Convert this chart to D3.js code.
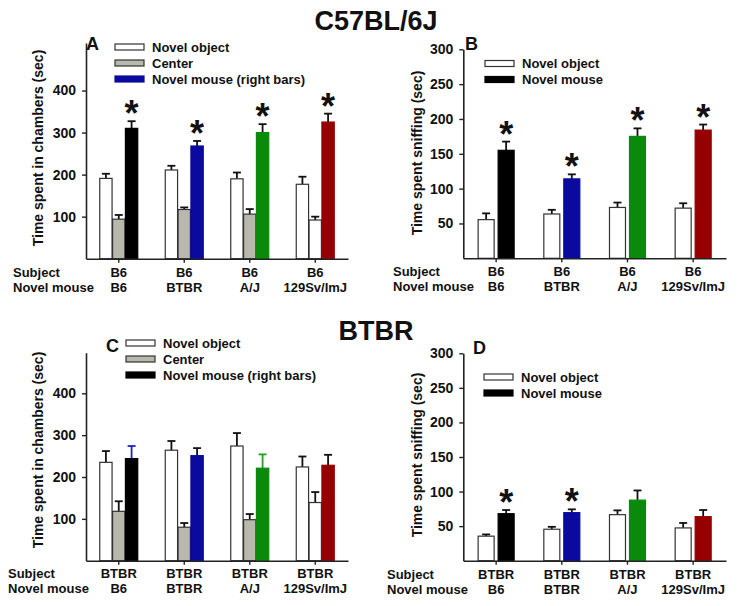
<!DOCTYPE html>
<html><head><meta charset="utf-8">
<script src="https://cdn.jsdelivr.net/npm/d3@7"></script>
<style>
html,body{margin:0;padding:0;background:#fff;}
svg text{font-family:"Liberation Sans",Arial,sans-serif;font-weight:bold;fill:#111;}
</style></head>
<body><svg id="c" width="749" height="606"></svg>
<script>
// ---------- data ----------
const novelMice = ["B6", "BTBR", "A/J", "129Sv/ImJ"];
const subjectsB6 = ["B6", "B6", "B6", "B6"];
const subjectsBTBR = ["BTBR", "BTBR", "BTBR", "BTBR"];
const yTicksChambers = [100, 200, 300, 400];
const yTicksSniff = [50, 100, 150, 200, 250, 300];

// Panel A (C57BL/6J subjects, time in chambers)
const aNovelObject = [191, 211, 190, 177];
const aNovelObjectErr = [11, 10, 15, 18];
const aCenter = [94, 117, 106, 92];
const aCenterErr = [10, 5, 12, 8];
const aNovelMouse = [310, 268, 300, 325];
const aNovelMouseErr = [17, 12, 20, 20];
const aSig = [1, 1, 1, 1];

// Panel B (C57BL/6J subjects, sniffing)
const bNovelObject = [55.5, 63.6, 73, 72];
const bNovelObjectErr = [9, 6, 7, 7];
const bNovelMouse = [155, 114, 175, 184];
const bNovelMouseErr = [12.5, 6.5, 11.5, 8];
const bSig = [1, 1, 1, 1];

// Panel C (BTBR subjects, time in chambers)
const cNovelObject = [235, 264, 274, 224];
const cNovelObjectErr = [27, 22, 31, 25];
const cCenter = [118, 80, 98, 139];
const cCenterErr = [24, 10, 13.5, 25];
const cNovelMouse = [244, 251, 221, 228];
const cNovelMouseErr = [30, 18, 33, 25];
const cSig = [0, 0, 0, 0];

// Panel D (BTBR subjects, sniffing)
const dNovelObject = [35.5, 45.5, 66.6, 47.4];
const dNovelObjectErr = [2.5, 3.5, 6.2, 7.2];
const dNovelMouse = [68, 69.5, 87.6, 63.7];
const dNovelMouseErr = [5.3, 4.8, 14, 9.6];
const dSig = [1, 1, 0, 0];

// ---------- styles ----------
const WHITE = "#ffffff", GRAY = "#b8b8ac";
const mouseColors = ["#000000", "#0a0a9e", "#0a8a0a", "#960000"];
const centerColors = [GRAY, GRAY, GRAY, WHITE];
const cMouseErrColors = ["#2020c0", "#111", "#22a022", "#111"];

const svg = d3.select("#c");
const F = "Liberation Sans, Arial, sans-serif";

svg.append("text").attr("x", 376).attr("y", 30).attr("text-anchor", "middle")
  .attr("font-size", 27).text("C57BL/6J");
svg.append("text").attr("x", 376).attr("y", 340).attr("text-anchor", "middle")
  .attr("font-size", 27).text("BTBR");

function panel(o) {
  const g = svg.append("g");
  const y = d3.scaleLinear().domain([0, o.yMax]).range([o.y0, o.yTop]);
  const x = d3.scaleBand().domain(d3.range(4)).range([o.x0, o.x1]);
  const inner = d3.scaleBand().domain(d3.range(o.series.length))
    .range([-o.half, o.half]).paddingInner(o.gap);
  const cx = i => x(i) + x.bandwidth() / 2;

  // bars + error bars
  o.series.forEach((s, si) => {
    s.vals.forEach((v, i) => {
      const bx = cx(i) + inner(si);
      const bw = inner.bandwidth();
      const fill = s.colors[i];
      const top = y(v + s.err[i]);
      const ec = s.errColors ? s.errColors[i] : "#111";
      g.append("line").attr("x1", bx + bw / 2).attr("x2", bx + bw / 2)
        .attr("y1", y(v)).attr("y2", top).attr("stroke", ec).attr("stroke-width", 1.8);
      g.append("line").attr("x1", bx + bw / 2 - 4).attr("x2", bx + bw / 2 + 4)
        .attr("y1", top).attr("y2", top).attr("stroke", ec).attr("stroke-width", 1.8);
      g.append("rect").attr("x", bx).attr("y", y(v)).attr("width", bw)
        .attr("height", o.y0 - y(v)).attr("fill", fill)
        .attr("stroke", fill === "#000000" ? "#000" : (fill === WHITE || fill === GRAY ? "#333" : fill))
        .attr("stroke-width", 1.2);
      if (s.sig && s.sig[i]) {
        g.append("text").attr("x", bx + bw / 2).attr("y", top + 17 - 12)
          .attr("text-anchor", "middle").attr("font-size", 36).text("*");
      }
    });
  });

  // axes
  const ya = g.append("g").attr("transform", `translate(${o.x0},0)`)
    .call(d3.axisLeft(y).tickValues(o.ticks).tickSize(4).tickPadding(6).tickSizeOuter(0));
  ya.select(".domain").attr("stroke", "#222").attr("stroke-width", 1.6);
  ya.selectAll(".tick line").attr("stroke", "#222").attr("stroke-width", 1.4);
  ya.selectAll(".tick text").attr("font-size", 14).attr("font-family", F).attr("font-weight", "bold").attr("fill", "#111");
  const xa = g.append("g").attr("transform", `translate(0,${o.y0})`)
    .call(d3.axisBottom(x).tickSize(4).tickSizeOuter(0).tickFormat(""));
  xa.select(".domain").attr("stroke", "#222").attr("stroke-width", 1.6);
  xa.selectAll(".tick line").attr("stroke", "#222").attr("stroke-width", 1.4);

  // y label
  g.append("text").attr("transform", `translate(${o.ylx},${o.yly}) rotate(-90)`)
    .attr("text-anchor", "middle").attr("dominant-baseline", "central")
    .attr("font-size", 14).text(o.ylabel);

  // panel letter
  g.append("text").attr("x", o.lx).attr("y", o.ly).attr("font-size", 18).text(o.letter);

  // legend
  o.legend.forEach((l, i) => {
    const ly = o.legY + i * 16;
    g.append("rect").attr("x", o.legX).attr("y", ly - 3).attr("width", 29).attr("height", 6)
      .attr("fill", l.c).attr("stroke", l.c === "#000000" ? "#000" : (l.c === WHITE || l.c === GRAY ? "#333" : l.c)).attr("stroke-width", 1.2);
    g.append("text").attr("x", o.legX + 37).attr("y", ly).attr("dominant-baseline", "central")
      .attr("font-size", 13).text(l.t);
  });

  // category labels
  g.append("text").attr("x", o.catX).attr("y", o.row1).attr("font-size", 13).text("Subject");
  g.append("text").attr("x", o.catX).attr("y", o.row2).attr("font-size", 13).text("Novel mouse");
  o.subjects.forEach((s, i) => {
    g.append("text").attr("x", cx(i)).attr("y", o.row1).attr("text-anchor", "middle").attr("font-size", 13).text(s);
    g.append("text").attr("x", cx(i)).attr("y", o.row2).attr("text-anchor", "middle").attr("font-size", 13).text(novelMice[i]);
  });
}

panel({
  x0: 86, x1: 348, y0: 258.7, yTop: 43, yMax: 513, ticks: yTicksChambers,
  half: 19, gap: 0.04,
  series: [
    { vals: aNovelObject, err: aNovelObjectErr, colors: [WHITE, WHITE, WHITE, WHITE] },
    { vals: aCenter, err: aCenterErr, colors: centerColors },
    { vals: aNovelMouse, err: aNovelMouseErr, colors: mouseColors, sig: aSig }
  ],
  ylabel: "Time spent in chambers (sec)", ylx: 38, yly: 148,
  letter: "A", lx: 86, ly: 50,
  legX: 115, legY: 47,
  legend: [{ c: WHITE, t: "Novel object" }, { c: GRAY, t: "Center" }, { c: "#0a0a9e", t: "Novel mouse (right bars)" }],
  catX: 13, row1: 277, row2: 292, subjects: subjectsB6
});

panel({
  x0: 463.3, x1: 726, y0: 258.3, yTop: 49.3, yMax: 300, ticks: yTicksSniff,
  half: 18, gap: 0.2,
  series: [
    { vals: bNovelObject, err: bNovelObjectErr, colors: [WHITE, WHITE, WHITE, WHITE] },
    { vals: bNovelMouse, err: bNovelMouseErr, colors: mouseColors, sig: bSig }
  ],
  ylabel: "Time spent sniffing (sec)", ylx: 417, yly: 153,
  letter: "B", lx: 465, ly: 50,
  legX: 485, legY: 63.5,
  legend: [{ c: WHITE, t: "Novel object" }, { c: "#000000", t: "Novel mouse" }],
  catX: 393, row1: 276, row2: 291, subjects: subjectsB6
});

panel({
  x0: 86, x1: 348, y0: 560.7, yTop: 352.7, yMax: 497, ticks: yTicksChambers,
  half: 19, gap: 0.04,
  series: [
    { vals: cNovelObject, err: cNovelObjectErr, colors: [WHITE, WHITE, WHITE, WHITE] },
    { vals: cCenter, err: cCenterErr, colors: centerColors },
    { vals: cNovelMouse, err: cNovelMouseErr, colors: mouseColors, sig: cSig, errColors: cMouseErrColors }
  ],
  ylabel: "Time spent in chambers (sec)", ylx: 38, yly: 450,
  letter: "C", lx: 106, ly: 352,
  legX: 126, legY: 343,
  legend: [{ c: WHITE, t: "Novel object" }, { c: GRAY, t: "Center" }, { c: "#000000", t: "Novel mouse (right bars)" }],
  catX: 8, row1: 578, row2: 593, subjects: subjectsBTBR
});

panel({
  x0: 463.3, x1: 726, y0: 560.7, yTop: 353.3, yMax: 300, ticks: yTicksSniff,
  half: 18, gap: 0.2,
  series: [
    { vals: dNovelObject, err: dNovelObjectErr, colors: [WHITE, WHITE, WHITE, WHITE] },
    { vals: dNovelMouse, err: dNovelMouseErr, colors: mouseColors, sig: dSig }
  ],
  ylabel: "Time spent sniffing (sec)", ylx: 417, yly: 455,
  letter: "D", lx: 473, ly: 354,
  legX: 484, legY: 377,
  legend: [{ c: WHITE, t: "Novel object" }, { c: "#000000", t: "Novel mouse" }],
  catX: 387, row1: 579, row2: 594, subjects: subjectsBTBR
});
</script></body></html>
